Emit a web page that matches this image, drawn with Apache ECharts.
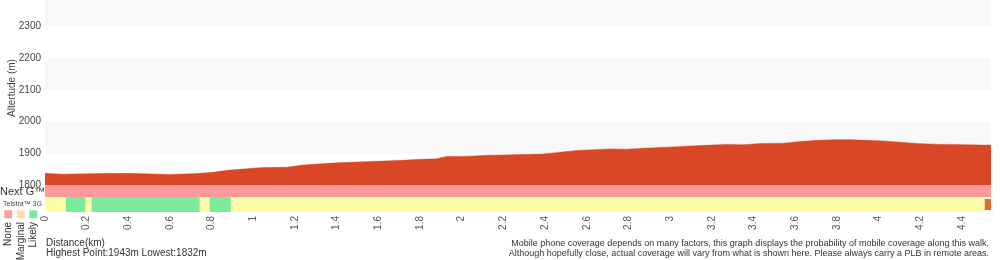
<!DOCTYPE html>
<html>
<head>
<meta charset="utf-8">
<script src="https://cdn.jsdelivr.net/npm/echarts@6/dist/echarts.min.js"></script>
<style>
  html, body { margin: 0; padding: 0; background: #fff; }
  #chart { width: 1000px; height: 260px; }
</style>
</head>
<body>
<div id="chart"></div>
<script>
// distance along the walk (km) and altitude (m)
var distKm = [0, 0.084, 0.247, 0.406, 0.598, 0.727, 0.804, 0.886, 1.044, 1.126, 1.159, 1.236, 1.399, 1.558,
  1.716, 1.798, 1.879, 1.927, 2.038, 2.12, 2.197, 2.279, 2.39, 2.553, 2.712, 2.793, 2.87, 3.034, 3.192,
  3.274, 3.351, 3.433, 3.543, 3.625, 3.707, 3.784, 3.866, 3.947, 4.024, 4.106, 4.188, 4.265, 4.346,
  4.428, 4.505, 4.54];
var altitude = [1837, 1834, 1836, 1837, 1833, 1836, 1840, 1847, 1855, 1856, 1856, 1863, 1870, 1874,
  1878, 1881, 1883, 1890, 1891, 1894, 1895, 1896, 1898, 1909, 1914, 1913, 1916, 1921, 1926,
  1928, 1927, 1931, 1932, 1937, 1941, 1943, 1943, 1941, 1939, 1935, 1931, 1929, 1928,
  1927, 1926, 1926];
var routeLength = 4.54;

// coverage segments: [from km, to km, level]
var nextGSegments = [[0, 4.54, 'none']];
var telstraSegments = [[0, 0.1, 'marginal'], [0.1, 0.195, 'likely'], [0.195, 0.224, 'marginal'],
  [0.224, 0.743, 'likely'], [0.743, 0.79, 'marginal'], [0.79, 0.892, 'likely'],
  [0.892, 4.51, 'marginal'], [4.51, 4.54, 'end']];

var legendLevels = ['None', 'Marginal', 'Likely'];

var levelColors = { none: '#FF9898', marginal: '#FFFDA8', likely: '#7BEA9A', end: '#E2692F' };
var legendColors = ['#FF9C9C', '#FFE0AA', '#7DE89C'];
var FONT = '"Liberation Sans", Arial, Helvetica, sans-serif';

var chart = echarts.init(document.getElementById('chart'));

function segmentSeries(segs, band) {
  return {
    type: 'custom', xAxisIndex: 1, yAxisIndex: 1, silent: true,
    data: segs.map(function(s) { return [s[0], s[1]]; }),
    encode: { x: [0, 1] },
    renderItem: function(params, api) {
      var lvl = segs[params.dataIndex][2];
      var b = lvl === 'end' ? [band[0] + 2, band[1] - 2] : band;
      var p0 = api.coord([api.value(0), b[1]]);
      var p1 = api.coord([api.value(1), b[0]]);
      return {
        type: 'rect',
        shape: { x: p0[0], y: p0[1], width: p1[0] - p0[0], height: p1[1] - p0[1] },
        style: { fill: levelColors[lvl] }
      };
    }
  };
}

var graphics = [
  { type: 'text', x: 12, y: 88, rotation: Math.PI / 2,
    style: { text: 'Altertude (m)', font: '10px ' + FONT, fill: '#444', align: 'center', verticalAlign: 'middle' } },
  { type: 'text', x: 0, y: 192,
    style: { text: 'Next G™', font: '11px ' + FONT, fill: '#333', verticalAlign: 'middle' } },
  { type: 'text', x: 3, y: 204,
    style: { text: 'Telstra™ 3G', font: '7px ' + FONT, fill: '#444', verticalAlign: 'middle' } },
  { type: 'text', x: 46, y: 243,
    style: { text: 'Distance(km)', font: '10px ' + FONT, fill: '#333', verticalAlign: 'middle' } },
  { type: 'text', x: 46, y: 253,
    style: { text: 'Highest Point:1943m Lowest:1832m', font: '10px ' + FONT, fill: '#333', verticalAlign: 'middle' } },
  { type: 'text', x: 989, y: 244,
    style: { text: 'Mobile phone coverage depends on many factors, this graph displays the probability of mobile coverage along this walk.',
      font: '9px ' + FONT, fill: '#333', align: 'right', verticalAlign: 'middle' } },
  { type: 'text', x: 989, y: 254,
    style: { text: 'Although hopefully close, actual coverage will vary from what is shown here. Please always carry a PLB in remote areas.',
      font: '9px ' + FONT, fill: '#333', align: 'right', verticalAlign: 'middle' } }
];
legendLevels.forEach(function(name, i) {
  graphics.push({ type: 'rect', shape: { x: 4 + i * 12.5, y: 210, width: 8.5, height: 8.5 },
    style: { fill: legendColors[i], stroke: 'rgba(255,255,255,0.6)', lineWidth: 1 } });
  graphics.push({ type: 'text', x: 8.5 + i * 12.5, y: 222, rotation: Math.PI / 2,
    style: { text: name, font: '10px ' + FONT, fill: '#333', align: 'right', verticalAlign: 'middle' } });
});

chart.setOption({
  animation: false,
  textStyle: { fontFamily: FONT },
  grid: [
    { left: 45, right: 9, top: 0, height: 185 },
    { left: 45, right: 9, top: 185, height: 27 }
  ],
  xAxis: [
    { type: 'value', gridIndex: 0, min: 0, max: routeLength, show: false },
    { type: 'value', gridIndex: 1, min: 0, max: routeLength, interval: 0.2,
      axisLine: { show: false }, axisTick: { show: false }, splitLine: { show: false },
      axisLabel: { rotate: 90, fontSize: 10, color: '#555', margin: 4, showMaxLabel: false } }
  ],
  yAxis: [
    { type: 'value', gridIndex: 0, min: 1800, max: 2384, interval: 100,
      axisLine: { show: false }, axisTick: { show: false }, splitLine: { show: false },
      splitArea: { show: true, areaStyle: { color: ['#ffffff', '#f8f8f8'] } },
      axisLabel: { fontSize: 10, color: '#444', margin: 4, showMaxLabel: false,
        formatter: function(v) { return String(v); } } },
    { type: 'value', gridIndex: 1, min: 0, max: 27, show: false }
  ],
  series: [
    { type: 'line', xAxisIndex: 0, yAxisIndex: 0, silent: true, showSymbol: false,
      data: distKm.map(function(d, i) { return [d, altitude[i]]; }),
      lineStyle: { color: 'rgba(218,71,39,0.45)', width: 1 },
      areaStyle: { color: '#DA4727', opacity: 1 } },
    segmentSeries(nextGSegments, [15, 27]),
    segmentSeries(telstraSegments, [0, 15])
  ],
  graphic: graphics
});
</script>
</body>
</html>
